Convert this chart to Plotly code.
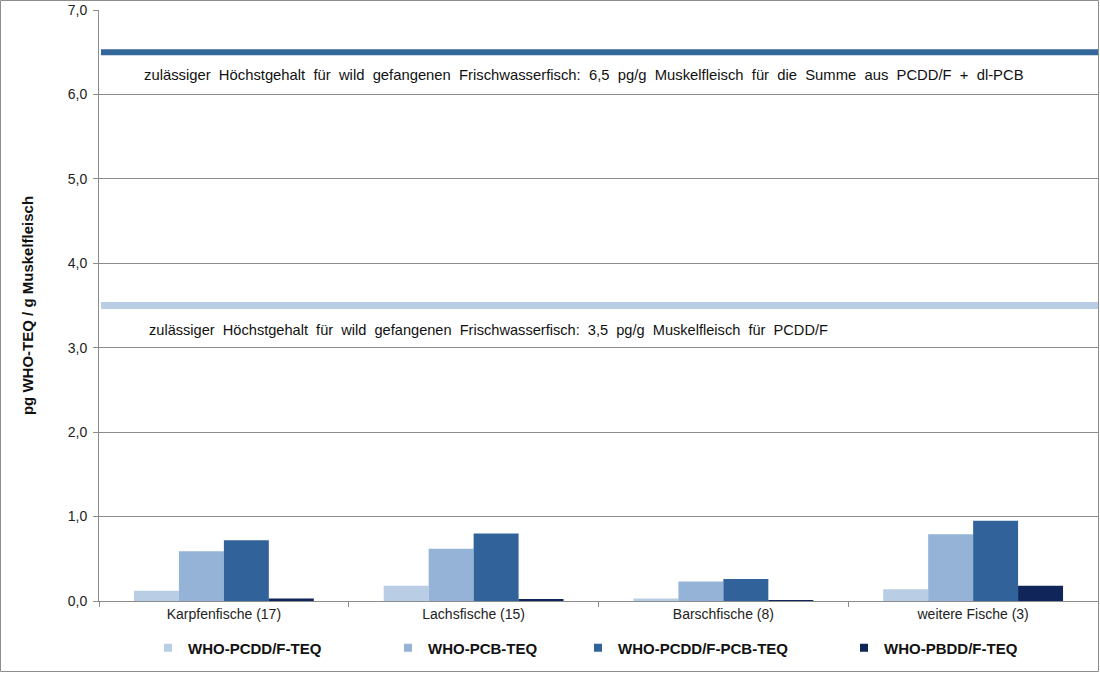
import plotly.graph_objects as go

categories = ["Karpfenfische (17)", "Lachsfische (15)", "Barschfische (8)", "weitere Fische (3)"]
series_names = ["WHO-PCDD/F-TEQ", "WHO-PCB-TEQ", "WHO-PCDD/F-PCB-TEQ", "WHO-PBDD/F-TEQ"]
pcdd_f = [0.12, 0.18, 0.03, 0.14]
pcb = [0.59, 0.62, 0.23, 0.79]
pcdd_f_pcb = [0.72, 0.80, 0.26, 0.95]
pbdd_f = [0.03, 0.02, 0.01, 0.18]
series_values = [pcdd_f, pcb, pcdd_f_pcb, pbdd_f]
colors = ["#b9cde5", "#95b3d7", "#31639a", "#10255a"]

limit_sum = 6.5
limit_pcdd = 3.5
limit_sum_text = "zulässiger  Höchstgehalt  für  wild  gefangenen  Frischwasserfisch:  6,5  pg/g  Muskelfleisch  für  die  Summe  aus  PCDD/F  +  dl-PCB"
limit_pcdd_text = "zulässiger  Höchstgehalt  für  wild  gefangenen  Frischwasserfisch:  3,5  pg/g  Muskelfleisch  für  PCDD/F"

W, H = 1100, 673
ml, mr, mt, mb = 99, 2, 10, 72
pw, ph = W - ml - mr, H - mt - mb

# pixel x where each legend entry's text should start
legend_text_px = [188, 428, 618, 884]
legend_names = ["legend", "legend2", "legend3", "legend4"]

FONT = "Liberation Sans, Arial, sans-serif"

fig = go.Figure()
for name, vals, col in zip(series_names, series_values, colors):
    fig.add_trace(go.Bar(x=categories, y=vals, name=name, marker_color=col,
                         marker_line_width=0, showlegend=False))
# legend entries (small square swatches)
for name, col, lg in zip(series_names, colors, legend_names):
    fig.add_trace(go.Scatter(x=[None], y=[None], mode="markers", name=name, legend=lg,
                             marker=dict(symbol="square", size=8, color=col), showlegend=True))

# limit lines
fig.add_shape(type="line", xref="paper", yref="y", x0=0.002, x1=1, y0=limit_sum, y1=limit_sum,
              line=dict(color="#336699", width=6), layer="above")
fig.add_shape(type="line", xref="paper", yref="y", x0=0.002, x1=1, y0=limit_pcdd, y1=limit_pcdd,
              line=dict(color="#b9cde5", width=7), layer="above")

fig.add_annotation(xref="paper", yref="y", x=(142 - ml) / pw, y=6.23, xanchor="left", yanchor="middle",
                   text=limit_sum_text, showarrow=False, font=dict(family=FONT, size=14.8, color="#111"))
fig.add_annotation(xref="paper", yref="y", x=(147 - ml) / pw, y=3.21, xanchor="left", yanchor="middle",
                   text=limit_pcdd_text, showarrow=False, font=dict(family=FONT, size=14.6, color="#111"))

# outer border
fig.add_shape(type="rect", xref="paper", yref="paper",
              x0=(0.5 - ml) / pw, x1=(W - 1.5 - ml) / pw,
              y0=(ph + mt - (H - 1.5)) / ph, y1=(ph + mt - 0.5) / ph,
              line=dict(color="#8c8c8c", width=1), layer="below")

legends = {}
for lg, px in zip(legend_names, legend_text_px):
    legends[lg] = dict(x=(px - 40 - ml) / pw, y=(ph + mt - 648) / ph, xanchor="left", yanchor="middle",
                       orientation="h", bgcolor="rgba(0,0,0,0)", borderwidth=0,
                       font=dict(family=FONT, size=15, color="#111", weight="bold"),
                       itemwidth=30)

fig.update_layout(
    width=W, height=H,
    margin=dict(l=ml, r=mr, t=mt, b=mb, pad=0, autoexpand=False),
    paper_bgcolor="white", plot_bgcolor="white",
    showlegend=True,
    barmode="group", bargap=0.28, bargroupgap=0,
    separators=",.",
    font=dict(family=FONT, size=14, color="#222"),
    yaxis=dict(range=[0, 7], dtick=1, tickformat=".1f", showgrid=True, gridcolor="#8c8c8c", gridwidth=1,
               showline=True, linecolor="#8c8c8c", linewidth=1, ticks="outside", ticklen=5,
               tickcolor="#8c8c8c", zeroline=False, ticklabelstandoff=3,
               tickfont=dict(family=FONT, size=14, color="#222"),
               title=dict(text="<b>pg WHO-TEQ / g Muskelfleisch</b>", standoff=30,
                          font=dict(family=FONT, size=15, color="#111"))),
    xaxis=dict(showline=True, linecolor="#8c8c8c", linewidth=1, ticks="outside", ticklen=5,
               tickcolor="#8c8c8c", tickson="boundaries", showgrid=False,
               tickfont=dict(family=FONT, size=14, color="#222")),
    **legends,
)

fig.write_html("out.html", config={"displayModeBar": False},
               post_script="document.body.style.margin='0';")
